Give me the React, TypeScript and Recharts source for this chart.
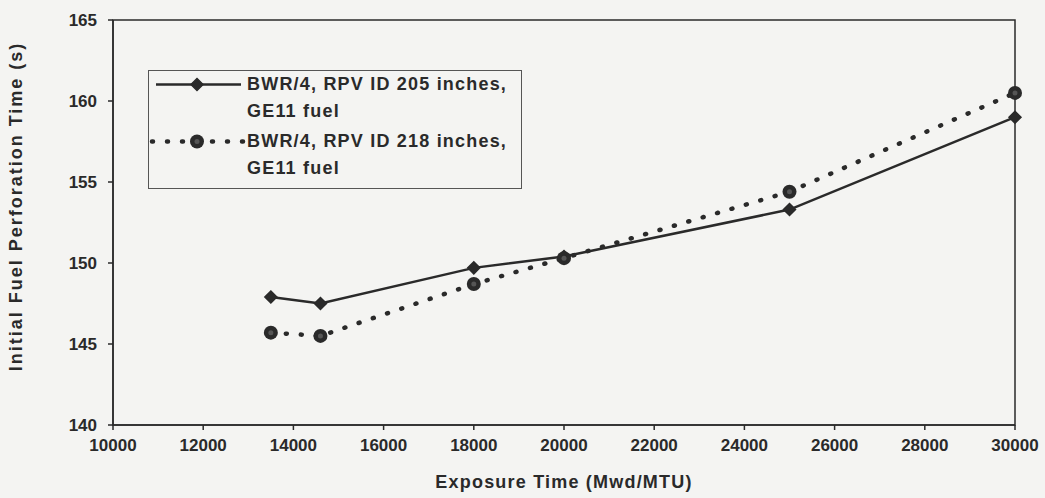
import React from 'react';
import { LineChart, Line, XAxis, YAxis, Legend, ReferenceArea } from 'recharts';

// exposure points (Mwd/MTU) and perforation times (s)
const exposure = [13500, 14600, 18000, 20000, 25000, 30000];
const rpv205 = [147.9, 147.5, 149.7, 150.4, 153.3, 159.0];
const rpv218 = [145.7, 145.5, 148.7, 150.3, 154.4, 160.5];

const xTicks = [10000, 12000, 14000, 16000, 18000, 20000, 22000, 24000, 26000, 28000, 30000];
const yTicks = [140, 145, 150, 155, 160, 165];

const names = {
  rpv205: 'BWR/4, RPV ID 205 inches,\nGE11 fuel',
  rpv218: 'BWR/4, RPV ID 218 inches,\nGE11 fuel',
};

const data = exposure.map((x, i) => ({ x, rpv205: rpv205[i], rpv218: rpv218[i] }));

const ink = '#2a2a2a';
const font = '"Liberation Sans", Arial, sans-serif';

const Diamond = ({ cx, cy }: any) => {
  if (cx == null || cy == null) return null;
  const s = 6;
  return (
    <polygon
      points={`${cx},${cy - s} ${cx + s},${cy} ${cx},${cy + s} ${cx - s},${cy}`}
      fill={ink}
      stroke={ink}
      strokeWidth={1.5}
    />
  );
};

const Dot = ({ cx, cy }: any) => {
  if (cx == null || cy == null) return null;
  return (
    <g>
      <circle cx={cx} cy={cy} r={7} fill={ink} />
      <circle cx={cx} cy={cy} r={2.5} fill="#555" />
    </g>
  );
};

const renderLegend = (props: any) => {
  const { payload = [] } = props;
  return (
    <div
      style={{
        border: '1.5px solid #555',
        background: '#f4f4f2',
        padding: '0 14px 6px 0',
        fontFamily: font,
        fontWeight: 'bold',
        fontSize: 18,
        letterSpacing: 1.2,
        color: ink,
      }}
    >
      {payload.map((entry: any, i: number) => {
        const dotted = entry.dataKey === 'rpv218';
        return (
          <div key={i} style={{ display: 'flex', marginTop: i === 0 ? 0 : 3 }}>
            <svg width={98} height={27} style={{ flex: 'none' }}>
              {dotted ? (
                <line x1={3} y1={13.5} x2={94} y2={13.5} stroke={ink} strokeWidth={4.5}
                  strokeDasharray="1 14" strokeLinecap="round" />
              ) : (
                <line x1={7} y1={13.5} x2={92} y2={13.5} stroke={ink} strokeWidth={2.5} />
              )}
              {dotted ? <Dot cx={48} cy={13.5} /> : <Diamond cx={48} cy={13.5} />}
            </svg>
            <div style={{ whiteSpace: 'pre-line', lineHeight: '27px' }}>{entry.value}</div>
          </div>
        );
      })}
    </div>
  );
};

const tickStyle = { fontSize: 17, fontWeight: 'bold', fill: ink, fontFamily: font };

const App = () => {
  return (
    <div style={{ position: 'absolute', left: 0, top: 0, width: 1045, height: 498, background: '#f4f4f2' }}>
      <LineChart width={1045} height={498} data={data} margin={{ top: 20, right: 30, left: 0, bottom: 0 }}>
        <ReferenceArea x1={10000} x2={30000} y1={140} y2={165} fill="none" stroke={ink} strokeWidth={1.5} />
        <XAxis
          type="number"
          dataKey="x"
          domain={[10000, 30000]}
          ticks={xTicks}
          height={73}
          stroke={ink}
          strokeWidth={1.5}
          tickSize={5}
          tickMargin={9}
          tick={tickStyle}
          label={{
            value: 'Exposure Time (Mwd/MTU)',
            position: 'insideBottom',
            offset: 10,
            style: { fontSize: 18, fontWeight: 'bold', fill: ink, fontFamily: font, letterSpacing: 1.2 },
          }}
        />
        <YAxis
          type="number"
          domain={[140, 165]}
          ticks={yTicks}
          width={113}
          stroke={ink}
          strokeWidth={1.5}
          tickSize={5}
          tickMargin={11}
          tick={tickStyle}
          label={{
            value: 'Initial Fuel Perforation Time (s)',
            angle: -90,
            position: 'insideLeft',
            offset: 16,
            dy: -16,
            style: { textAnchor: 'middle', fontSize: 18, fontWeight: 'bold', fill: ink, fontFamily: font, letterSpacing: 2 },
          }}
        />
        <Legend
          layout="vertical"
          align="center"
          verticalAlign="middle"
          content={renderLegend}
          wrapperStyle={{ left: 148, top: 70, width: 'auto', height: 'auto' }}
        />
        <Line
          type="linear"
          dataKey="rpv205"
          name={names.rpv205}
          stroke={ink}
          strokeWidth={2.5}
          dot={<Diamond />}
          activeDot={false}
          isAnimationActive={false}
        />
        <Line
          type="linear"
          dataKey="rpv218"
          name={names.rpv218}
          stroke={ink}
          strokeWidth={4.5}
          strokeDasharray="1 14"
          strokeLinecap="round"
          dot={<Dot />}
          activeDot={false}
          isAnimationActive={false}
        />
      </LineChart>
    </div>
  );
};

export default App;
